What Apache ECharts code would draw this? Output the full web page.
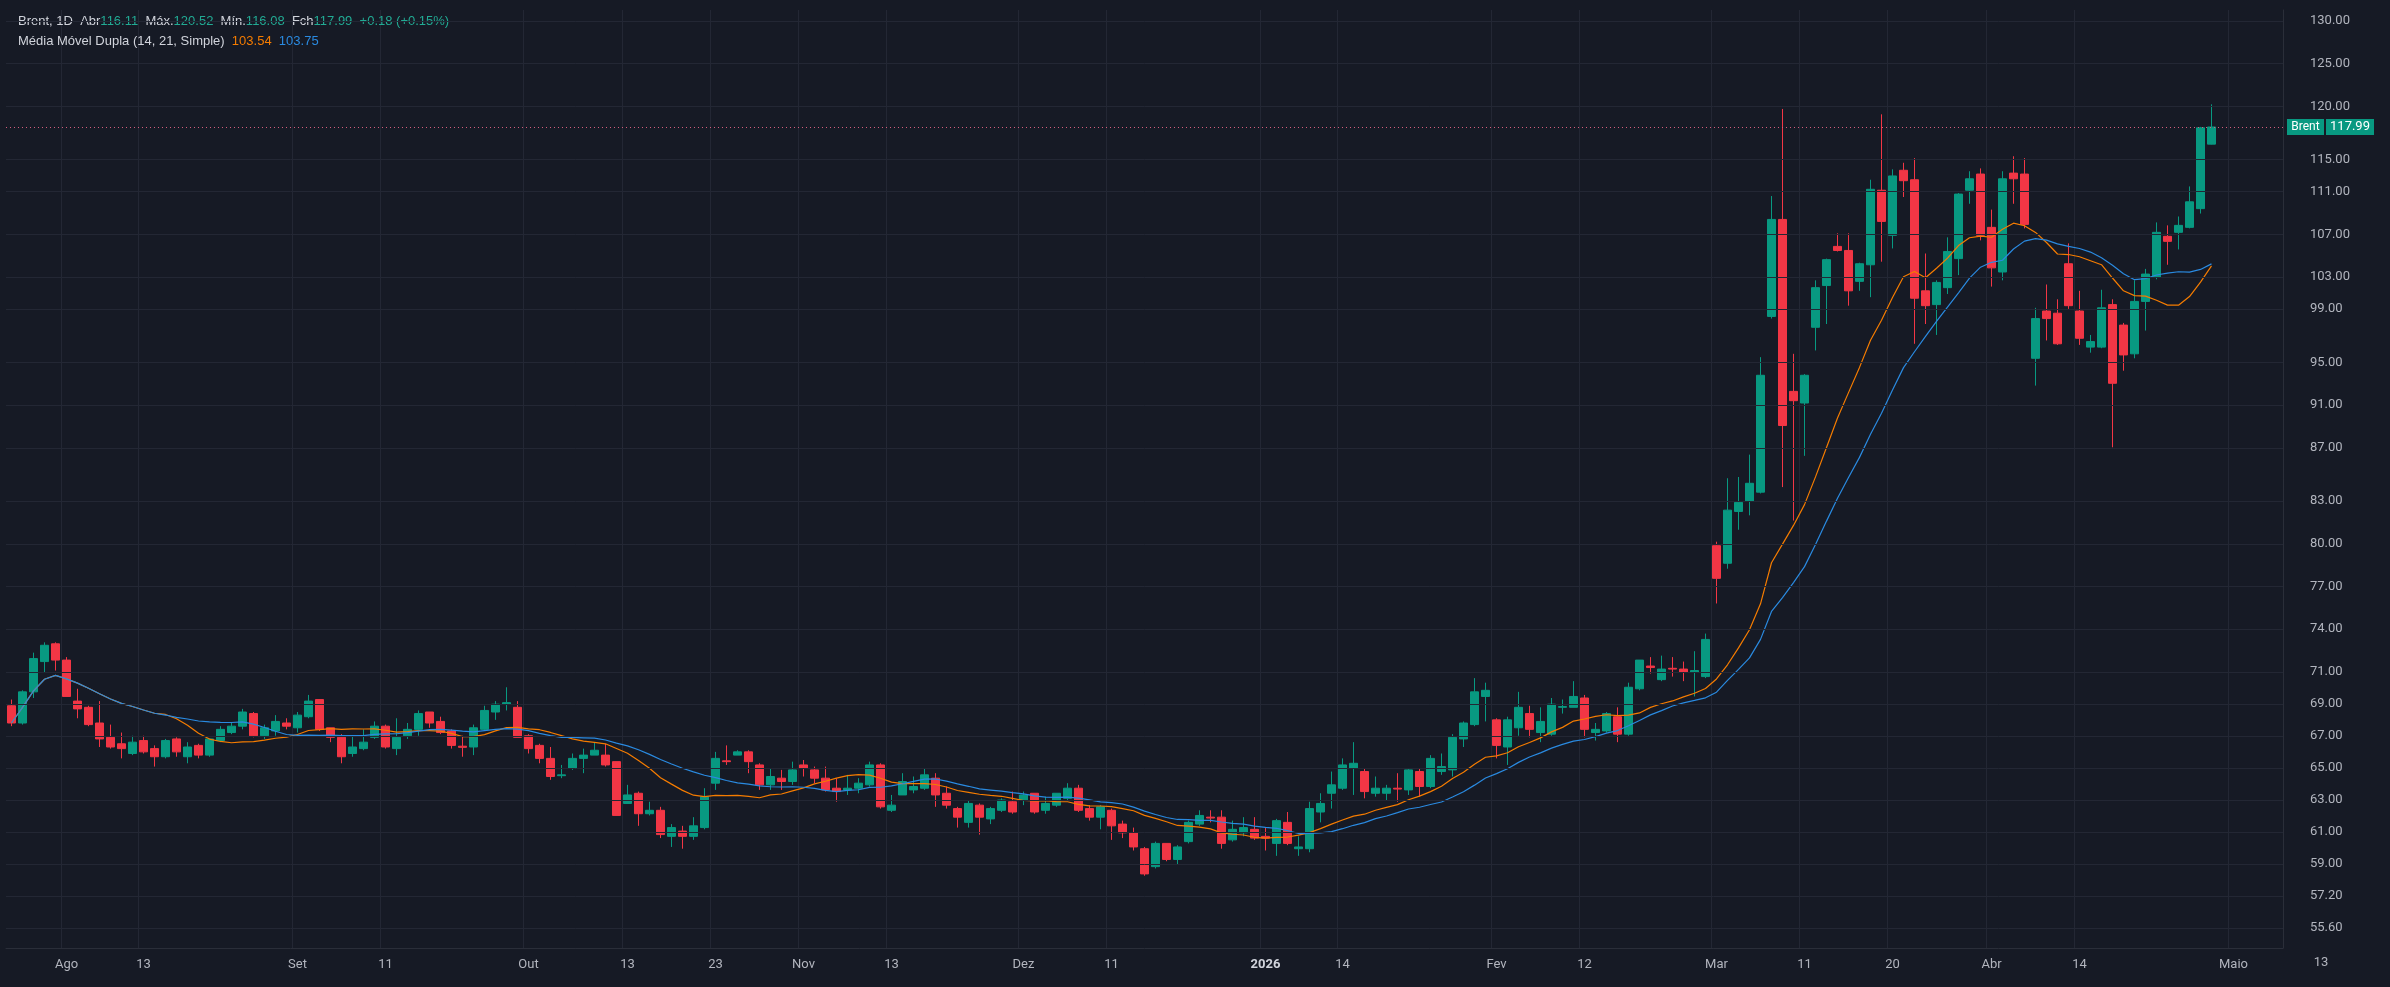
<!DOCTYPE html>
<html>
<head>
<meta charset="utf-8">
<script src="https://cdn.jsdelivr.net/npm/echarts@6/dist/echarts.min.js"></script>
<style>
	html, body { margin: 0; padding: 0; background: #161a25; }
	#chart { width: 2390px; height: 987px; }
</style>
</head>
<body>
<div id="chart"></div>
<script>
// candles: [open, close, low, high], one per trading day
var ohlc = [
	[68.6,67.5,67.3,69.0],[67.5,69.5,67.4,69.6],[69.5,71.7,69.1,72.1],[71.5,72.6,70.8,72.8],[72.7,71.6,70.9,72.8],
	[71.6,69.2,69.2,71.8],[68.9,68.4,67.8,69.7],[68.5,67.4,67.3,68.6],[67.5,66.5,66.0,68.9],[66.6,66.0,65.9,67.4],
	[66.2,65.9,65.3,66.9],[65.6,66.3,65.5,66.7],[66.4,65.7,65.6,66.7],[65.9,65.4,64.8,66.1],[65.4,66.4,65.3,66.5],
	[66.5,65.7,65.4,66.6],[65.4,66.0,65.0,66.3],[66.1,65.5,65.3,66.2],[65.5,66.5,65.4,66.5],[66.4,67.1,66.3,67.3],
	[66.9,67.3,66.8,67.5],[67.3,68.2,67.1,68.4],[68.1,66.7,66.6,68.2],[66.7,67.2,66.5,67.4],[67.0,67.6,66.7,68.0],
	[67.5,67.3,67.1,67.8],[67.2,68.0,66.9,68.2],[67.9,68.9,67.8,69.3],[69.0,67.1,67.0,69.0],[67.2,66.6,66.3,67.2],
	[66.6,65.4,65.0,66.8],[65.6,66.0,65.4,66.7],[65.9,66.3,65.8,67.1],[66.6,67.3,66.5,67.6],[67.3,66.0,65.9,67.4],
	[65.9,66.6,65.5,67.8],[66.7,67.1,66.5,67.5],[67.1,68.1,66.7,68.3],[68.2,67.5,67.2,68.2],[67.6,66.9,66.8,67.9],
	[67.0,66.1,65.9,67.1],[66.05,65.98,65.4,66.7],[66.0,67.2,65.5,67.4],[67.1,68.3,67.0,68.6],[68.2,68.7,67.7,68.9],
	[68.7,68.8,68.3,69.8],[68.5,66.6,66.6,68.9],[66.7,65.9,65.6,66.8],[66.1,65.3,65.0,66.2],[65.3,64.2,64.0,66.0],
	[64.25,64.3,64.1,64.9],[64.7,65.3,64.6,65.6],[65.3,65.5,64.4,65.9],[65.5,65.8,65.5,66.3],[65.5,64.9,64.8,66.2],
	[65.1,61.9,61.9,65.1],[62.6,63.1,62.6,63.7],[63.2,62.0,61.3,63.3],[62.0,62.2,61.9,62.7],[62.2,60.8,60.6,62.4],
	[60.7,61.2,60.1,61.4],[61.0,60.7,60.0,61.3],[60.7,61.3,60.5,61.8],[61.2,63.0,61.1,63.5],[63.8,65.3,63.4,65.7],
	[65.15,65.1,64.9,66.1],[65.5,65.7,65.5,65.8],[65.7,65.1,64.4,65.8],[64.9,63.7,63.4,65.0],[63.7,64.2,63.4,64.7],
	[64.1,63.9,63.4,64.6],[63.9,64.6,63.7,65.1],[64.9,64.7,64.2,65.2],[64.6,64.1,63.8,64.8],[64.1,63.4,63.3,64.8],
	[63.5,63.3,62.7,64.1],[63.4,63.5,63.1,64.3],[63.5,63.8,63.2,64.1],[63.7,64.9,63.6,65.1],[64.9,62.4,62.3,65.0],
	[62.2,62.5,62.1,63.1],[63.1,63.9,63.1,64.4],[63.4,63.6,63.2,64.2],[63.5,64.3,63.4,64.7],[64.1,63.1,62.4,64.4],
	[63.2,62.5,62.3,63.6],[62.3,61.8,61.2,62.4],[61.5,62.6,61.2,62.8],[62.5,61.8,60.8,62.6],[61.7,62.3,61.4,62.4],
	[62.2,62.8,62.1,62.9],[62.7,62.1,62.0,63.3],[62.8,63.1,62.5,63.3],[63.2,62.1,62.0,63.2],[62.2,62.6,62.0,63.0],
	[62.5,63.2,62.4,63.2],[62.9,63.5,62.8,63.8],[63.5,62.2,62.1,63.7],[62.3,61.8,61.6,62.5],[61.8,62.4,61.1,62.5],
	[62.2,61.3,60.5,62.3],[61.4,60.9,60.6,61.6],[60.9,60.1,59.9,61.2],[60.0,58.6,58.5,60.1],[59.0,60.3,58.9,60.4],
	[60.3,59.4,59.3,60.3],[59.4,60.1,59.1,60.2],[60.4,61.5,60.3,61.6],[61.4,61.9,61.3,62.2],[61.8,61.75,61.5,62.2],
	[61.8,60.3,60.0,62.2],[60.5,61.1,60.4,61.6],[60.9,61.2,60.7,61.8],[61.1,60.6,60.5,61.8],[60.7,60.6,59.9,61.2],
	[60.3,61.6,59.6,61.7],[61.5,60.3,60.2,62.1],[60.0,60.1,59.6,60.7],[60.0,62.3,59.8,62.7],[62.1,62.6,61.5,63.2],
	[63.2,63.7,62.3,64.5],[63.5,64.9,63.4,65.3],[64.7,65.0,63.1,66.3],[64.5,63.3,62.9,64.7],[63.2,63.5,63.0,64.2],
	[63.2,63.5,62.8,63.7],[63.5,63.45,62.7,64.4],[63.4,64.6,63.1,64.7],[64.5,63.6,63.0,64.7],[63.6,65.3,63.5,65.5],
	[64.5,64.8,64.3,65.6],[64.6,66.6,64.2,66.8],[66.5,67.5,66.0,67.6],[67.4,69.5,67.3,70.4],[69.2,69.6,67.6,70.1],
	[67.7,66.1,65.3,67.8],[66.0,67.7,64.9,67.9],[67.2,68.5,66.7,69.5],[68.1,67.1,66.6,68.6],[66.9,67.6,66.3,68.5],
	[66.8,68.7,66.7,69.1],[68.5,68.55,68.1,69.0],[68.5,69.2,68.5,70.2],[69.1,67.1,66.6,69.3],[66.9,67.1,66.4,67.5],
	[67.0,68.1,66.9,68.2],[67.9,66.8,66.3,68.5],[66.8,69.8,66.7,70.1],[69.7,71.6,69.6,71.6],[71.2,71.1,70.7,71.8],
	[70.3,71.0,70.2,71.9],[71.05,71.0,70.5,71.8],[71.0,70.8,70.2,71.5],[70.8,70.9,69.2,72.2],[70.5,73.0,70.4,73.4],
	[79.7,77.3,75.5,80.0],[78.4,82.4,78.0,84.9],[82.3,83.0,80.9,85.0],[83.1,84.5,82.0,86.8],[83.8,93.5,83.7,95.1],
	[98.8,108.2,98.6,110.6],[108.2,89.2,84.2,120.0],[92.1,91.3,81.6,95.4],[91.1,93.5,86.7,93.6],[97.8,101.5,95.7,102.2],
	[101.7,104.2,98.1,104.3],[105.5,105.1,105.0,106.8],[105.1,101.2,99.8,106.8],[102.1,103.8,101.2,103.9],[103.7,111.3,100.6,112.3],
	[111.2,108.0,104.0,119.4],[106.6,112.7,105.3,113.4],[113.3,112.2,110.5,114.1],[112.3,100.5,96.3,114.6],[101.2,99.8,98.1,104.8],
	[99.9,102.0,97.1,102.2],[101.5,105.0,100.9,106.4],[104.3,110.8,102.7,110.9],[111.2,112.4,109.8,113.2],[112.9,106.6,106.1,113.5],
	[107.4,103.4,101.6,109.2],[103.0,112.4,102.2,113.2],[113.0,112.4,109.8,114.8],[112.9,107.7,107.3,114.6],[95.0,98.6,92.6,99.6],
	[99.3,98.6,96.6,101.8],[99.1,96.3,96.2,100.4],[103.8,99.8,99.5,105.8],[99.3,96.8,96.2,101.2],[96.0,96.5,95.5,97.1],
	[96.0,99.6,95.9,101.3],[99.9,92.8,87.4,100.4],[98.0,95.3,93.9,98.2],[95.4,100.2,95.0,102.2],[100.2,102.8,97.5,103.3],
	[102.5,106.9,102.3,107.9],[106.5,106.0,103.7,107.6],[106.9,107.6,105.2,108.5],[107.4,110.0,107.3,111.6],[109.3,117.9,108.8,118.0],
	[116.11,117.99,116.08,120.52]
];

// date axis labels: [slot index, text]
var tickLabels = [
	[5,'Ago'],[12,'13'],[26,'Set'],[34,'11'],[47,'Out'],[56,'13'],[64,'23'],[72,'Nov'],[80,'13'],
	[92,'Dez'],[100,'11'],[114,'2026'],[121,'14'],[135,'Fev'],[143,'12'],[155,'Mar'],[163,'11'],
	[171,'20'],[180,'Abr'],[188,'14'],[202,'Maio']
];
var slotCount = 207;

// price scale labels (log scale)
var priceTicks = [55.6, 57.2, 59, 61, 63, 65, 67, 69, 71, 74, 77, 80, 83, 87, 91, 95, 99, 103, 107, 111, 115, 120, 125, 130];
var lastPrice = 117.99;

;(function(){
	var ln = Math.log,
		upColor = '#089981',
		downColor = '#f23645',
		gridColor = '#232734',
		textColor = '#b2b5be',
		font = 'Roboto, "Noto Sans", sans-serif',
		chart = echarts.init(document.getElementById('chart'));

	var categories = [];
	for (var i = 0; i < slotCount; i++) categories.push('');
	var labelAt = {};
	tickLabels.forEach(function(t){ categories[t[0]] = t[1]; labelAt[t[0]] = true; });

	var closes = ohlc.map(function(d){ return d[1]; });
	var logCandles = ohlc.map(function(d){ return d.map(function(v){ return ln(v); }); });

	// simple moving average of closes (shorter window at the very start)
	function sma(n) {
		return closes.map(function(c, i){
			var s = 0, k = 0;
			for (var j = Math.max(0, i - n + 1); j <= i; j++) { s += closes[j]; k++; }
			return ln(s / k);
		});
	}

	var gridLines = priceTicks.map(function(p){
		return { yAxis: ln(p), label: { formatter: p.toFixed(2) } };
	});

	var option = {
		backgroundColor: '#161a25',
		animation: false,
		textStyle: { fontFamily: font },
		grid: { left: 6, right: 107, top: 10, bottom: 39 },
		xAxis: {
			type: 'category',
			data: categories,
			boundaryGap: true,
			axisLine: { show: true, lineStyle: { color: '#2a2e39' } },
			axisTick: { show: false },
			axisLabel: {
				interval: function(idx){ return !!labelAt[idx]; },
				color: textColor, fontSize: 13, margin: 10,
				formatter: function(v){ return v === '2026' ? '{b|2026}' : v; },
				rich: { b: { fontWeight: 'bold', color: '#d1d4dc', fontSize: 13 } }
			},
			splitLine: {
				show: true,
				interval: function(idx){ return !!labelAt[idx]; },
				lineStyle: { color: gridColor }
			}
		},
		yAxis: {
			type: 'value',
			position: 'right',
			min: ln(54.67),
			max: ln(131.66),
			axisLine: { show: true, lineStyle: { color: '#2a2e39' } },
			axisTick: { show: false },
			axisLabel: { show: false },
			splitLine: { show: false }
		},
		series: [
			{
				// horizontal price grid with its labels
				type: 'line',
				data: [],
				silent: true,
				z: 1,
				markLine: {
					silent: true,
					symbol: 'none',
					lineStyle: { color: gridColor, type: 'solid', width: 1 },
					label: { position: 'end', distance: 27, color: textColor, fontSize: 13, fontFamily: font },
					data: gridLines
				}
			},
			{
				name: 'Brent',
				type: 'candlestick',
				data: logCandles,
				barWidth: 8,
				z: 3,
				itemStyle: {
					color: upColor, color0: downColor,
					borderColor: upColor, borderColor0: downColor,
					borderWidth: 1
				},
				markLine: {
					silent: true,
					symbol: 'none',
					label: { show: false },
					lineStyle: { color: '#d35d7d', type: [1, 3], width: 1 },
					data: [{ yAxis: ln(lastPrice) }]
				}
			},
			{
				name: 'MA14',
				type: 'line',
				data: sma(14),
				showSymbol: false,
				z: 4,
				lineStyle: { color: '#f57c00', width: 1.2 }
			},
			{
				name: 'MA21',
				type: 'line',
				data: sma(21),
				showSymbol: false,
				z: 4,
				lineStyle: { color: '#2a8ae0', width: 1.2 }
			}
		]
	};
	chart.setOption(option);

	var py = chart.convertToPixel({ yAxisIndex: 0 }, ln(lastPrice));
	chart.setOption({
		graphic: [
			{
				type: 'text', left: 18, top: 15,
				style: {
					text: '{w|Brent, 1D  Abr}{g|116.11}{w|  Máx.}{g|120.52}{w|  Mín.}{g|116.08}{w|  Fch}{g|117.99}{g|  +0.18 (+0.15%)}\n{w|Média Móvel Dupla (14, 21, Simple)  }{o|103.54}{w|  }{b|103.75}',
					font: '13px ' + font,
					rich: {
						w: { fill: '#d1d4dc', fontSize: 13, lineHeight: 20 },
						g: { fill: '#22ab94', fontSize: 13, lineHeight: 20 },
						o: { fill: '#f57c00', fontSize: 13, lineHeight: 20 },
						b: { fill: '#2a8ae0', fontSize: 13, lineHeight: 20 }
					}
				}
			},
			{ type: 'rect', shape: { x: 2287, y: py - 8, width: 37, height: 16 }, style: { fill: upColor }, z: 10 },
			{ type: 'text', x: 2305.5, y: py, style: { text: 'Brent', fill: '#ffffff', font: '12px ' + font, align: 'center', verticalAlign: 'middle' }, z: 11 },
			{ type: 'rect', shape: { x: 2326, y: py - 8, width: 48, height: 16 }, style: { fill: upColor }, z: 10 },
			{ type: 'text', x: 2350, y: py, style: { text: lastPrice.toFixed(2), fill: '#ffffff', font: '13px ' + font, align: 'center', verticalAlign: 'middle' }, z: 11 },
			{ type: 'text', x: 2321, y: 963, style: { text: '13', fill: textColor, font: '13px ' + font, align: 'center', verticalAlign: 'middle' } }
		]
	});
}());
</script>
</body>
</html>
